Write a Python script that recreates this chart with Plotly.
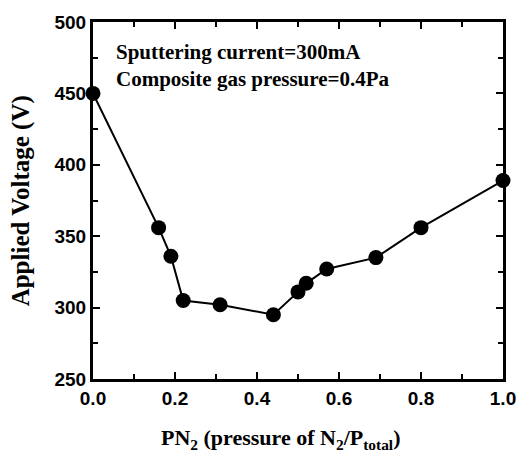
import plotly.graph_objects as go

pn2 = [0.0, 0.16, 0.19, 0.22, 0.31, 0.44, 0.50, 0.52, 0.57, 0.69, 0.80, 1.0]
voltage = [450, 356, 336, 305, 302, 295, 311, 317, 327, 335, 356, 389]

x_ticks = [0.0, 0.2, 0.4, 0.6, 0.8, 1.0]
x_labels = ["0.0", "0.2", "0.4", "0.6", "0.8", "1.0"]
y_ticks = [250, 300, 350, 400, 450, 500]

notes = ["Sputtering current=300mA", "Composite gas pressure=0.4Pa"]
x_title = "PN<sub>2</sub> (pressure of N<sub>2</sub>/P<sub>total</sub>)"
y_title = "Applied Voltage (V)"

fig = go.Figure()
fig.add_trace(go.Scatter(
    x=pn2, y=voltage, mode="lines+markers",
    line=dict(color="black", width=2),
    marker=dict(color="black", size=15),
    showlegend=False, cliponaxis=False,
))

tickfont = dict(family="Liberation Sans", size=19, color="black", weight="bold")
serif_bold = "Liberation Serif"

fig.update_xaxes(
    range=[0, 1], tickvals=x_ticks, ticktext=x_labels,
    ticks="inside", ticklen=7, tickwidth=2, tickcolor="black",
    minor=dict(ticks="inside", dtick=0.1, ticklen=5, tickwidth=2, tickcolor="black"),
    showline=True, linewidth=3, linecolor="black", mirror="ticks",
    showgrid=False, zeroline=False, tickfont=tickfont,
)
fig.update_yaxes(
    range=[250, 500], tickvals=y_ticks,
    ticks="inside", ticklen=7, tickwidth=2, tickcolor="black",
    minor=dict(ticks="inside", dtick=25, ticklen=5, tickwidth=2, tickcolor="black"),
    showline=True, linewidth=3, linecolor="black", mirror="ticks",
    showgrid=False, zeroline=False, tickfont=tickfont,
)

fig.add_annotation(
    x=0.457, y=-0.167, xref="paper", yref="paper", text=x_title,
    showarrow=False, xanchor="center", yanchor="middle",
    font=dict(family=serif_bold, size=22, color="black", weight="bold"),
)
fig.add_annotation(
    x=-0.176, y=0.5, xref="paper", yref="paper", text=y_title, textangle=-90,
    showarrow=False, xanchor="center", yanchor="middle",
    font=dict(family=serif_bold, size=25, color="black", weight="bold"),
)

for i, t in enumerate(notes):
    fig.add_annotation(
        x=0.052, y=0.915 - i * 0.074, xref="paper", yref="paper",
        text=t, showarrow=False, xanchor="left", yanchor="middle",
        font=dict(family=serif_bold, size=21, color="black", weight="bold"),
    )

fig.update_layout(
    width=528, height=459,
    margin=dict(l=93, r=19, t=14, b=80),
    plot_bgcolor="white", paper_bgcolor="white",
)

fig.write_html("out.html")
